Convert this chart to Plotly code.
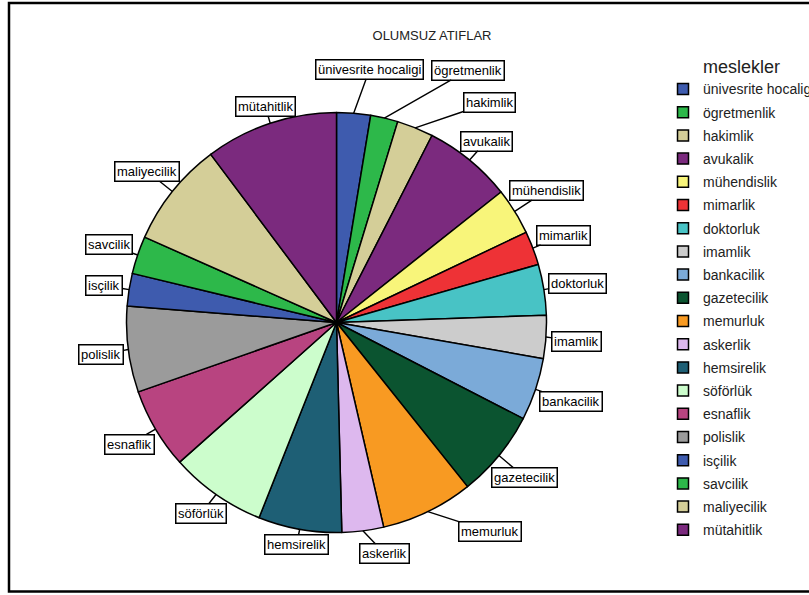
import math
import plotly.graph_objects as go

# ---------------- data ----------------
categories = ["ünivesrite hocaligi", "ögretmenlik", "hakimlik", "avukalik", "mühendislik",
              "mimarlik", "doktorluk", "imamlik", "bankacilik", "gazetecilik",
              "memurluk", "askerlik", "hemsirelik", "söförlük", "esnaflik",
              "polislik", "isçilik", "savcilik", "maliyecilik", "mütahitlik"]
values = [2.6, 2.1, 2.8, 6.8, 3.6, 2.6, 3.9, 3.3, 4.8, 6.7,
          7.1, 3.2, 6.4, 7.4, 6.2, 6.6, 2.5, 2.9, 8.1, 10.2]
title_text = "OLUMSUZ ATIFLAR"
legend_title = "meslekler"

# ---------------- styles / layout ----------------
palette = ["#3E5BAE", "#2DB84A", "#D4CE98", "#7B2A7E", "#F8F57A", "#EE3236",
           "#48C3C5", "#CCCCCC", "#7BAAD8", "#0B5430", "#F89A22", "#DDB8EE",
           "#1E5F75", "#CCFDCC", "#B84480", "#9B9B9B"]
colors = [palette[i % len(palette)] for i in range(len(categories))]

# pixel offsets of each label box from its slice's rim point
label_offsets = [(16, -44), (84, -48), (74, -25), (17, -19), (32, -21),
                 (31, -13), (34, -6), (31, 4), (35, 12), (26, 22),
                 (62, 20), (22, 23), (-3, 15), (-15, 19), (-26, 15),
                 (-27, 5), (-25, -4), (-29, -10), (-25, -20), (-5, -17)]

W, H = 809, 595
CX, CY, R = 336.5, 322.5, 210
FONT = "Liberation Sans, Arial, Helvetica, sans-serif"

fig = go.Figure()
fig.add_trace(go.Pie(
    labels=categories, values=values, sort=False, direction="clockwise",
    rotation=0, textinfo="none", showlegend=False, hoverinfo="label+percent",
    marker=dict(colors=colors, line=dict(color="black", width=1.5)),
    domain=dict(x=[(CX - R) / W, (CX + R) / W], y=[1 - (CY + R) / H, 1 - (CY - R) / H]),
))

# legend entries
for name, col in zip(categories, colors):
    fig.add_trace(go.Scatter(
        x=[None], y=[None], mode="markers", name=name, legendgroup=name,
        marker=dict(symbol="square", size=11, color=col, line=dict(color="black", width=1.5)),
        hoverinfo="skip"))

# labels with connectors
total = sum(values)
cum = 0.0
annotations = []
for name, v, (ox, oy) in zip(categories, values, label_offsets):
    mid = (cum + v / 2) / total * 2 * math.pi
    cum += v
    px = CX + R * math.sin(mid)
    py = CY - R * math.cos(mid)
    annotations.append(dict(
        x=px / W, y=1 - py / H, xref="paper", yref="paper",
        ax=ox, ay=oy, showarrow=True, arrowhead=0, arrowwidth=1.4, arrowcolor="black",
        standoff=0, text=name, font=dict(family=FONT, size=13, color="black"),
        bgcolor="white", bordercolor="black", borderwidth=1.5, borderpad=1.5))

fig.update_layout(
    width=W, height=H, template="none",
    margin=dict(l=0, r=0, t=0, b=0, autoexpand=False),
    paper_bgcolor="white", plot_bgcolor="white",
    font=dict(family=FONT, color="black"),
    title=dict(text=title_text, x=432 / W, xanchor="center", xref="paper",
               y=1 - 35 / H, yanchor="middle", yref="container",
               font=dict(family=FONT, size=13, color="#222222")),
    xaxis=dict(visible=False), yaxis=dict(visible=False),
    legend=dict(x=663 / W, xanchor="left", y=1 - 50 / H, yanchor="top",
                tracegroupgap=2, font=dict(family=FONT, size=14, color="#222222"),
                title=dict(text=legend_title, side="top center",
                           font=dict(family=FONT, size=18, color="#222222")),
                bgcolor="rgba(0,0,0,0)"),
    annotations=annotations,
    shapes=[dict(type="rect", xref="paper", yref="paper",
                 x0=9 / W, x1=1.05, y0=1 - 591.5 / H, y1=1 - 3 / H,
                 line=dict(color="black", width=2.5), fillcolor="rgba(0,0,0,0)")],
)

fig.write_html("out.html")
